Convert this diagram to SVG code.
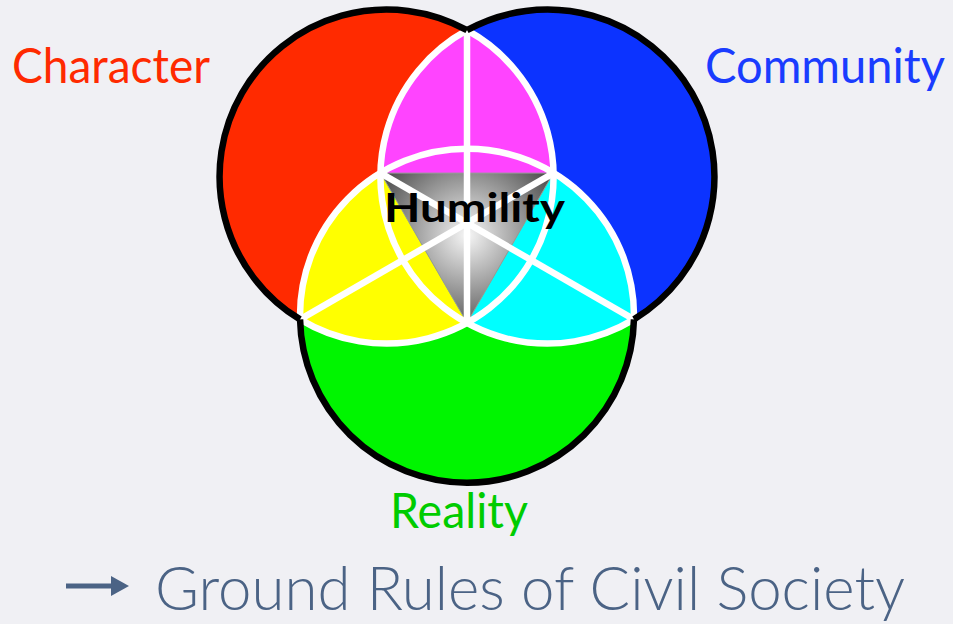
<svg xmlns="http://www.w3.org/2000/svg" width="953" height="624" viewBox="0 0 953 624">
  <defs>
    <radialGradient id="gray" gradientUnits="userSpaceOnUse" cx="467" cy="235" r="100">
      <stop offset="0" stop-color="#f6f6f6"/>
      <stop offset="1" stop-color="#4d4d4d"/>
    </radialGradient>
    <style>
      .lbl { font-family: Lato, "Liberation Sans", sans-serif; font-size: 48px; }
      .white { fill: none; stroke: #ffffff; stroke-width: 6.5; stroke-linejoin: round; }
      .black { fill: none; stroke: #000000; stroke-width: 6.5; }
    </style>
  </defs>
  <rect width="953" height="624" fill="#f0f0f4"/>

  <g id="character-circle">
    <circle cx="386.46" cy="176.5" r="167" fill="#ff2a00"/>
  </g>
  <g id="community-circle">
    <circle cx="547.54" cy="176.5" r="167" fill="#0c33ff"/>
  </g>
  <g id="reality-circle">
    <circle cx="467" cy="316" r="167" fill="#00f500"/>
  </g>
  <g id="character-community">
    <path d="M467 30.21 A167 167 0 0 1 553.42 173.1 L380.58 173.1 A167 167 0 0 1 467 30.21 Z" fill="#ff44ff"/>
  </g>
  <g id="character-reality">
    <path d="M300.04 319.4 A167 167 0 0 0 467 322.79 L380.58 173.1 A167 167 0 0 0 300.04 319.4 Z" fill="#ffff00"/>
  </g>
  <g id="community-reality">
    <path d="M633.96 319.4 A167 167 0 0 1 467 322.79 L553.42 173.1 A167 167 0 0 1 633.96 319.4 Z" fill="#00ffff"/>
  </g>
  <g id="humility-core">
    <path d="M380.58 173.1 L553.42 173.1 L467 322.79 Z" fill="url(#gray)" stroke="#9a9a9a" stroke-width="1"/>
  </g>

  <g id="connectors">
    <path class="white" d="M467 30.21 A167 167 0 1 1 300.04 319.4"/>
    <path class="white" d="M467 30.21 A167 167 0 1 0 633.96 319.4"/>
    <path class="white" d="M300.04 319.4 A167 167 0 1 1 633.96 319.4"/>
    <path class="white" d="M467 30.21 L467 322.79"/>
    <path class="white" d="M300.04 319.4 L553.42 173.1"/>
    <path class="white" d="M633.96 319.4 L380.58 173.1"/>
    <path class="black" d="M300.04 319.4 A167 167 0 0 1 467 30.21"/>
    <path class="black" d="M467 30.21 A167 167 0 0 1 633.96 319.4"/>
    <path class="black" d="M633.96 319.4 A167 167 0 0 1 300.04 319.4"/>
  </g>

  <g id="humility">
    <text x="384" y="222" font-family="Lato, 'Liberation Sans', sans-serif" font-weight="700" font-size="40" fill="#000" textLength="181" lengthAdjust="spacingAndGlyphs">Humility</text>
  </g>
  <g id="character">
    <text class="lbl" x="12" y="83" fill="#ff2a00" textLength="198" lengthAdjust="spacingAndGlyphs">Character</text>
  </g>
  <g id="community">
    <text class="lbl" x="705" y="83" fill="#1a3cff" textLength="240" lengthAdjust="spacingAndGlyphs">Community</text>
  </g>
  <g id="reality">
    <text class="lbl" x="390" y="528" fill="#00cc00" textLength="138" lengthAdjust="spacingAndGlyphs">Reality</text>
  </g>
  <g id="caption">
    <path d="M66 586 L114 586" stroke="#4b6385" stroke-width="5"/>
    <path d="M111 576 L129 586 L111 596 Z" fill="#4b6385"/>
    <text x="155" y="610" font-family="Lato, 'Liberation Sans', sans-serif" font-weight="300" font-size="62" fill="#4b6385" textLength="750" lengthAdjust="spacingAndGlyphs">Ground Rules of Civil Society</text>
  </g>
</svg>
